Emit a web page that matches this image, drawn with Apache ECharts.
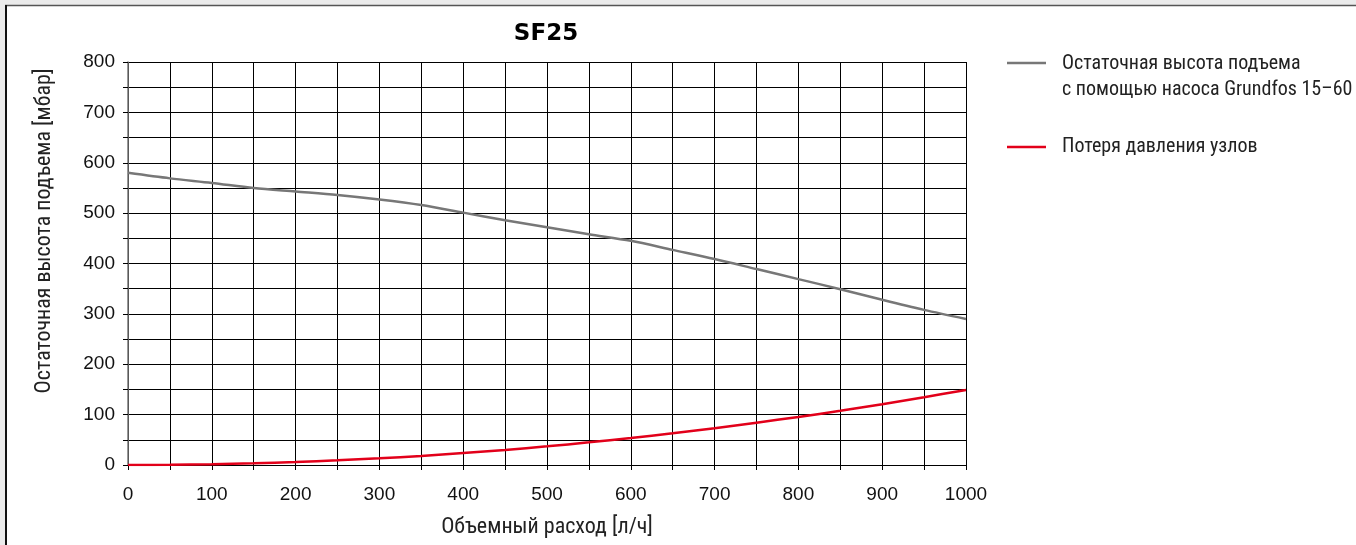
<!DOCTYPE html>
<html>
<head>
<meta charset="utf-8">
<script src="https://cdn.jsdelivr.net/npm/echarts@6/dist/echarts.min.js"></script>
<style>
html,body{margin:0;padding:0;background:#fff;}
#chart{width:1356px;height:545px;}
</style>
</head>
<body>
<div id="chart"></div>
<script>
// Data
var flow = [0, 50, 100, 150, 200, 250, 300, 350, 400, 450, 500, 550, 600, 650, 700, 750, 800, 850, 900, 950, 1000];
var pumpHead = [580, 569, 560, 550, 543, 536, 527, 516, 501, 486, 472, 458, 445, 427, 409, 389, 369, 349, 328, 308, 290];
var pressureLoss = [0, 0.4, 1.5, 3.3, 6, 9.3, 13.4, 18, 24, 30, 37, 45, 53.6, 63, 73, 84, 95.4, 107.6, 120.7, 134.5, 149];
var seriesNames = ['Остаточная высота подъема\nс помощью насоса Grundfos 15–60', 'Потеря давления узлов'];
var legendLines = ['Остаточная высота подъема', 'с помощью насоса Grundfos 15–60'];
var titleText = 'SF25';
var xName = 'Объемный расход [л/ч]';
var yName = 'Остаточная высота подъема [мбар]';

var narrow = "'Liberation Sans Narrow', 'Roboto Condensed', 'Arial Narrow', 'Liberation Sans', sans-serif";
var sans = "'Liberation Sans', Arial, sans-serif";

var chart = echarts.init(document.getElementById('chart'), null, {renderer: 'canvas'});

function pairs(xs, ys) { return xs.map(function (x, i) { return [x, ys[i]]; }); }

var option = {
  backgroundColor: '#ffffff',
  animation: false,
  title: {
    text: titleText,
    left: 541, top: 18, textAlign: 'center',
    textStyle: {fontFamily: "'DejaVu Sans', sans-serif", fontWeight: 'bold', fontSize: 23, color: '#000'}
  },
  grid: {left: 128, right: 390, top: 62, bottom: 80, containLabel: false},
  xAxis: {
    type: 'value', min: 0, max: 1000, interval: 100,
    name: xName, nameLocation: 'middle', nameGap: 51,
    nameTextStyle: {fontFamily: narrow, fontSize: 22, color: '#222'},
    axisLine: {show: true, lineStyle: {color: '#000', width: 1}},
    axisTick: {show: true, length: 5, lineStyle: {color: '#000'}},
    minorTick: {show: true, splitNumber: 2, length: 5, lineStyle: {color: '#000'}},
    splitLine: {show: true, lineStyle: {color: '#000', width: 1}},
    minorSplitLine: {show: true, lineStyle: {color: '#000', width: 1}},
    axisLabel: {fontFamily: sans, fontSize: 19, color: '#111', margin: 20,
      formatter: function (v) { return String(v); }}
  },
  yAxis: {
    type: 'value', min: 0, max: 800, interval: 100,
    axisLine: {show: true, lineStyle: {color: '#777', width: 1.5}},
    axisTick: {show: true, length: 5, lineStyle: {color: '#000'}},
    minorTick: {show: true, splitNumber: 2, length: 5, lineStyle: {color: '#000'}},
    splitLine: {show: true, lineStyle: {color: '#000', width: 1}},
    minorSplitLine: {show: true, lineStyle: {color: '#000', width: 1}},
    axisLabel: {fontFamily: sans, fontSize: 19, color: '#111', margin: 13,
      formatter: function (v) { return String(v); }}
  },
  series: [
    {
      name: seriesNames[0], type: 'line', data: pairs(flow, pumpHead),
      smooth: 0.3, showSymbol: false, lineStyle: {color: '#777777', width: 2.5}, z: 5
    },
    {
      name: seriesNames[1], type: 'line', data: pairs(flow, pressureLoss),
      smooth: 0.3, showSymbol: false, lineStyle: {color: '#e2001a', width: 2.5}, z: 6
    }
  ],
  graphic: [
    {type: 'rect', shape: {x: 0, y: 0, width: 1356, height: 5}, style: {fill: '#ebebeb'}, silent: true},
    {type: 'rect', shape: {x: 0, y: 0, width: 5, height: 545}, style: {fill: '#ebebeb'}, silent: true},
    {type: 'line', shape: {x1: 5, y1: 5.5, x2: 1356, y2: 5.5}, style: {stroke: '#555', lineWidth: 1.5}, silent: true},
    {type: 'line', shape: {x1: 6, y1: 5, x2: 6, y2: 545}, style: {stroke: '#111', lineWidth: 2}, silent: true},
    {type: 'text', x: 44, y: 231, rotation: Math.PI / 2,
      style: {text: yName, font: '22px ' + narrow, fill: '#222', textAlign: 'center', textVerticalAlign: 'middle'}},
    {type: 'line', shape: {x1: 1007, y1: 63, x2: 1046, y2: 63}, style: {stroke: '#777777', lineWidth: 2.5}},
    {type: 'text', x: 1062, y: 64, style: {text: legendLines[0], font: '20px ' + narrow, fill: '#222', textVerticalAlign: 'middle'}},
    {type: 'text', x: 1062, y: 90, style: {text: legendLines[1], font: '20px ' + narrow, fill: '#222', textVerticalAlign: 'middle'}},
    {type: 'line', shape: {x1: 1007, y1: 147, x2: 1046, y2: 147}, style: {stroke: '#e2001a', lineWidth: 2.5}},
    {type: 'text', x: 1062, y: 147, style: {text: seriesNames[1], font: '20px ' + narrow, fill: '#222', textVerticalAlign: 'middle'}}
  ]
};
chart.setOption(option);
</script>
</body>
</html>
